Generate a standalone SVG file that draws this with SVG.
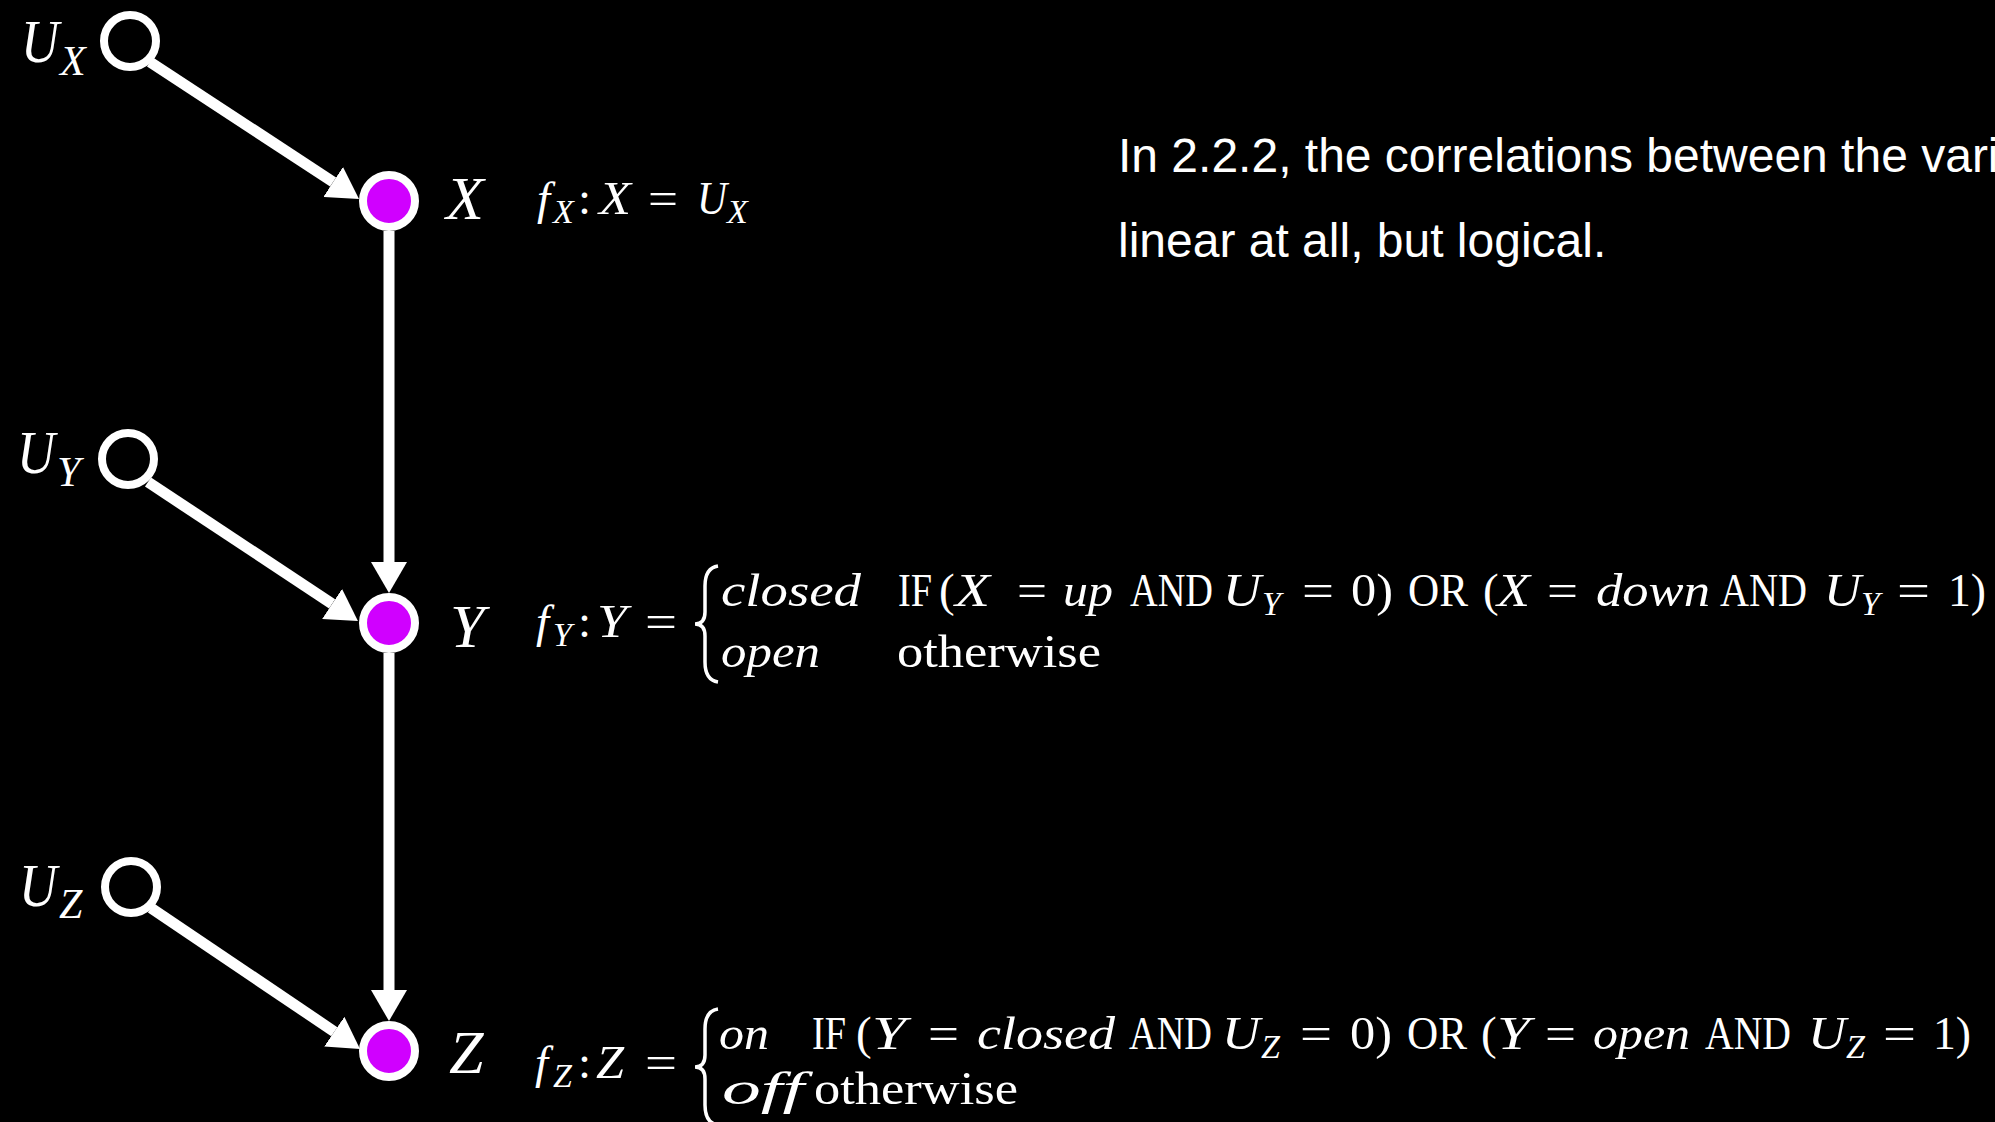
<svg xmlns="http://www.w3.org/2000/svg" width="1995" height="1122" viewBox="0 0 1995 1122">
<style>
.bg{fill:#000}
.n{fill:#000;stroke:#fff;stroke-width:8}
.np{fill:#D000FF;stroke:#fff;stroke-width:8}
.e{stroke:#fff;stroke-width:11;fill:none}
.lbl{font-family:"Liberation Serif",serif;font-style:italic;font-size:62px;fill:#fff}
.lsub{font-family:"Liberation Serif",serif;font-style:italic;font-size:42px;fill:#fff}
.m{font-family:"Liberation Serif",serif;font-size:47px;fill:#fff}
.mi{font-family:"Liberation Serif",serif;font-style:italic;font-size:47px;fill:#fff}
.ms{font-family:"Liberation Serif",serif;font-style:italic;font-size:34px;fill:#fff}
.br{stroke:#fff;stroke-width:3.5;fill:none}
.t{font-family:"Liberation Sans",Arial,sans-serif;font-size:48px;fill:#fff}
</style>
<defs>
<marker id="ah" markerUnits="userSpaceOnUse" viewBox="0 -18 31 36" refX="0" refY="0" markerWidth="31" markerHeight="36" orient="auto">
<path d="M0,-18 L31,0 L0,18 z" fill="#fff"/>
</marker>
</defs>
<rect class="bg" x="0" y="0" width="1995" height="1122"/>
<g id="connectors">
<line class="e" x1="150" y1="62" x2="333.1" y2="182" marker-end="url(#ah)"/>
<line class="e" x1="148" y1="482" x2="332.1" y2="603.9" marker-end="url(#ah)"/>
<line class="e" x1="151" y1="908" x2="334.3" y2="1031.7" marker-end="url(#ah)"/>
<line class="e" x1="389" y1="231" x2="389" y2="562" marker-end="url(#ah)"/>
<line class="e" x1="389" y1="653" x2="389" y2="990" marker-end="url(#ah)"/>
</g>
<g id="node-UX">
<circle class="n" cx="130" cy="41" r="26"/>
<text class="lbl" x="21" y="62" textLength="38" lengthAdjust="spacingAndGlyphs">U</text><text class="lsub" x="60" y="75">X</text>
</g>
<g id="node-X">
<circle class="np" cx="389" cy="201" r="26"/>
<text class="lbl" x="446" y="219">X</text>
</g>
<g id="node-UY">
<circle class="n" cx="128" cy="459" r="26"/>
<text class="lbl" x="17" y="473" textLength="38" lengthAdjust="spacingAndGlyphs">U</text><text class="lsub" x="57" y="486">Y</text>
</g>
<g id="node-Y">
<circle class="np" cx="389" cy="623" r="26"/>
<text class="lbl" x="450" y="647">Y</text>
</g>
<g id="node-UZ">
<circle class="n" cx="131" cy="887" r="26"/>
<text class="lbl" x="19" y="906" textLength="38" lengthAdjust="spacingAndGlyphs">U</text><text class="lsub" x="59" y="918">Z</text>
</g>
<g id="node-Z">
<circle class="np" cx="389" cy="1051" r="26"/>
<text class="lbl" x="449" y="1073">Z</text>
</g>
<g id="eq-X">
<text class="mi" x="537" y="214">f</text><text class="ms" x="553" y="223">X</text>
<text class="m" x="578" y="214">:</text>
<text class="mi" x="599" y="214" textLength="32" lengthAdjust="spacingAndGlyphs">X</text>
<text class="m" x="648" y="214" textLength="30" lengthAdjust="spacingAndGlyphs">=</text>
<text class="mi" x="697" y="214" textLength="30" lengthAdjust="spacingAndGlyphs">U</text><text class="ms" x="727" y="223">X</text>
</g>
<g id="eq-Y">
<text class="mi" x="536" y="637">f</text><text class="ms" x="553" y="646">Y</text>
<text class="m" x="578" y="637">:</text>
<text class="mi" x="597" y="637" textLength="30" lengthAdjust="spacingAndGlyphs">Y</text>
<text class="m" x="645" y="637" textLength="32" lengthAdjust="spacingAndGlyphs">=</text>
<path class="br" d="M718,566 Q705,568 705,586 L705,612 Q705,624 695,624 Q705,624 705,636 L705,662 Q705,680 718,682"/>
<text class="mi" x="721" y="606" textLength="140" lengthAdjust="spacingAndGlyphs">closed</text>
<text class="m" x="898" y="606" textLength="34" lengthAdjust="spacingAndGlyphs">IF</text>
<text class="m" x="939" y="606">(</text>
<text class="mi" x="955" y="606" textLength="35" lengthAdjust="spacingAndGlyphs">X</text>
<text class="m" x="1017" y="606" textLength="30" lengthAdjust="spacingAndGlyphs">=</text>
<text class="mi" x="1063" y="606" textLength="50" lengthAdjust="spacingAndGlyphs">up</text>
<text class="m" x="1130" y="606" textLength="83" lengthAdjust="spacingAndGlyphs">AND</text>
<text class="mi" x="1223" y="606" textLength="38" lengthAdjust="spacingAndGlyphs">U</text><text class="ms" x="1262" y="615">Y</text>
<text class="m" x="1302" y="606" textLength="32" lengthAdjust="spacingAndGlyphs">=</text>
<text class="m" x="1351" y="606" textLength="42" lengthAdjust="spacingAndGlyphs">0)</text>
<text class="m" x="1408" y="606" textLength="60" lengthAdjust="spacingAndGlyphs">OR</text>
<text class="m" x="1483" y="606">(</text>
<text class="mi" x="1497" y="606" textLength="33" lengthAdjust="spacingAndGlyphs">X</text>
<text class="m" x="1547" y="606" textLength="31" lengthAdjust="spacingAndGlyphs">=</text>
<text class="mi" x="1596" y="606" textLength="114" lengthAdjust="spacingAndGlyphs">down</text>
<text class="m" x="1720" y="606" textLength="87" lengthAdjust="spacingAndGlyphs">AND</text>
<text class="mi" x="1824" y="606" textLength="37" lengthAdjust="spacingAndGlyphs">U</text><text class="ms" x="1861" y="615">Y</text>
<text class="m" x="1897" y="606" textLength="33" lengthAdjust="spacingAndGlyphs">=</text>
<text class="m" x="1948" y="606" textLength="38" lengthAdjust="spacingAndGlyphs">1)</text>
<text class="mi" x="721" y="667" textLength="99" lengthAdjust="spacingAndGlyphs">open</text>
<text class="m" x="897" y="667" textLength="204" lengthAdjust="spacingAndGlyphs">otherwise</text>
</g>
<g id="eq-Z">
<text class="mi" x="535" y="1078">f</text><text class="ms" x="553" y="1087">Z</text>
<text class="m" x="578" y="1078">:</text>
<text class="mi" x="596" y="1078" textLength="28" lengthAdjust="spacingAndGlyphs">Z</text>
<text class="m" x="645" y="1078" textLength="32" lengthAdjust="spacingAndGlyphs">=</text>
<path class="br" d="M718,1009 Q705,1011 705,1029 L705,1055 Q705,1067 695,1067 Q705,1067 705,1079 L705,1105 Q705,1123 718,1125"/>
<text class="mi" x="719" y="1049" textLength="50" lengthAdjust="spacingAndGlyphs">on</text>
<text class="m" x="812" y="1049" textLength="34" lengthAdjust="spacingAndGlyphs">IF</text>
<text class="m" x="856" y="1049">(</text>
<text class="mi" x="872" y="1049" textLength="34" lengthAdjust="spacingAndGlyphs">Y</text>
<text class="m" x="928" y="1049" textLength="31" lengthAdjust="spacingAndGlyphs">=</text>
<text class="mi" x="977" y="1049" textLength="138" lengthAdjust="spacingAndGlyphs">closed</text>
<text class="m" x="1129" y="1049" textLength="83" lengthAdjust="spacingAndGlyphs">AND</text>
<text class="mi" x="1222" y="1049" textLength="38" lengthAdjust="spacingAndGlyphs">U</text><text class="ms" x="1261" y="1058">Z</text>
<text class="m" x="1300" y="1049" textLength="32" lengthAdjust="spacingAndGlyphs">=</text>
<text class="m" x="1350" y="1049" textLength="42" lengthAdjust="spacingAndGlyphs">0)</text>
<text class="m" x="1407" y="1049" textLength="60" lengthAdjust="spacingAndGlyphs">OR</text>
<text class="m" x="1481" y="1049">(</text>
<text class="mi" x="1497" y="1049" textLength="33" lengthAdjust="spacingAndGlyphs">Y</text>
<text class="m" x="1545" y="1049" textLength="31" lengthAdjust="spacingAndGlyphs">=</text>
<text class="mi" x="1593" y="1049" textLength="97" lengthAdjust="spacingAndGlyphs">open</text>
<text class="m" x="1705" y="1049" textLength="86" lengthAdjust="spacingAndGlyphs">AND</text>
<text class="mi" x="1808" y="1049" textLength="38" lengthAdjust="spacingAndGlyphs">U</text><text class="ms" x="1846" y="1058">Z</text>
<text class="m" x="1883" y="1049" textLength="33" lengthAdjust="spacingAndGlyphs">=</text>
<text class="m" x="1933" y="1049" textLength="38" lengthAdjust="spacingAndGlyphs">1)</text>
<text class="mi" x="722" y="1104" textLength="82" lengthAdjust="spacingAndGlyphs">off</text>
<text class="m" x="814" y="1104" textLength="204" lengthAdjust="spacingAndGlyphs">otherwise</text>
</g>
<g id="note">
<text class="t" x="1118" y="172">In 2.2.2, the correlations between the vari</text>
<text class="t" x="1118" y="257">linear at all, but logical.</text>
</g>
</svg>
